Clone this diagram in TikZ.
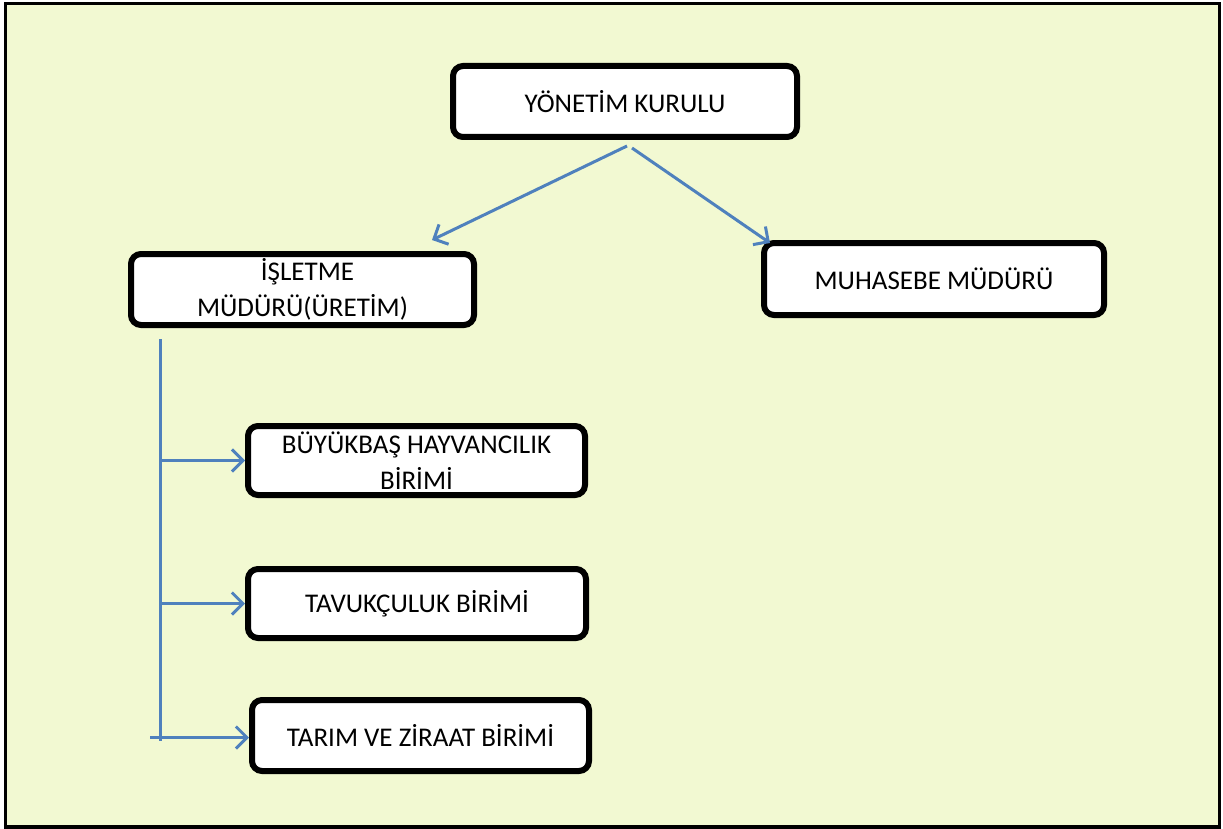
\documentclass[tikz,border=0pt]{standalone}
\usepackage{fontspec}
\setmainfont{Carlito}
\usetikzlibrary{arrows.meta}
\definecolor{bgc}{HTML}{F2F9D2}
\definecolor{linec}{HTML}{4F81BD}
\tikzset{
  box/.style={draw=black, line width=6pt, rounded corners=10pt, fill=white,
    align=center, inner sep=0pt, font=\fontsize{27}{36}\selectfont},
  conn/.style={draw=linec, line width=3pt},
  arr/.style={conn, -{Straight Barb[length=11pt,width=22pt,line width=3pt]}}
}
\begin{document}
\begin{tikzpicture}[x=1pt,y=-1pt]
\useasboundingbox (0,0) rectangle (1223,829);
\fill[white] (0,0) rectangle (1223,829);
\draw[line width=3.5pt, fill=bgc] (5.5,3.5) rectangle (1219.5,827);

\node[box, minimum width=344pt, minimum height=71pt] (yk) at (625,101.5) {YÖNETİM KURULU};
\node[box, minimum width=343pt, minimum height=71pt] (im) at (302.5,289.5) {\hspace*{10pt}İŞLETME\\MÜDÜRÜ(ÜRETİM)};
\node[box, minimum width=340pt, minimum height=72pt] (mm) at (934,279) {MUHASEBE MÜDÜRÜ};
\node[box, minimum width=337pt, minimum height=69pt] (bb) at (416.5,460.5) {BÜYÜKBAŞ HAYVANCILIK\\BİRİMİ};
\node[box, minimum width=338pt, minimum height=69pt] (tv) at (417,603.5) {TAVUKÇULUK BİRİMİ};
\node[box, minimum width=337pt, minimum height=71pt] (tz) at (420.5,735.5) {TARIM VE ZİRAAT BİRİMİ};

\coordinate (ys1) at (627,146);
\coordinate (ys2) at (632,148);
\coordinate (imt) at (432,240);
\coordinate (mmt) at (770,243);
\draw[arr] (ys1) -- (imt);
\draw[arr] (ys2) -- (mmt);

\coordinate (vtop) at (160,339);
\coordinate (vbot) at (160,741);
\draw[conn] (vtop) -- (vbot);
\coordinate (h1) at (160,460.5);
\coordinate (h2) at (162,603.5);
\coordinate (h3) at (150,737.5);
\draw[arr] (h1) -- (h1 -| bb.west);
\draw[arr] (h2) -- (h2 -| tv.west);
\draw[arr] (h3) -- (h3 -| tz.west);
\end{tikzpicture}
\end{document}
